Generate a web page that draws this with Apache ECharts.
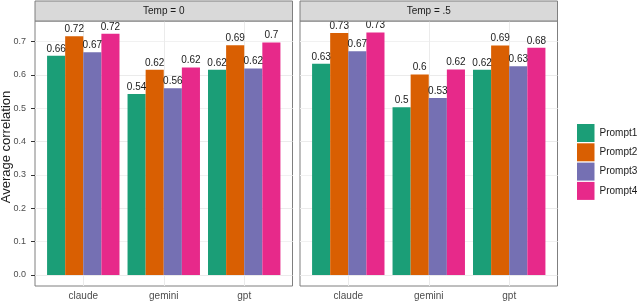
<!DOCTYPE html>
<html>
<head>
<meta charset="utf-8">
<script src="https://cdn.jsdelivr.net/npm/echarts@6/dist/echarts.min.js"></script>
<style>html,body{margin:0;padding:0;background:#fff}#c{width:640px;height:303px}</style>
</head>
<body>
<div id="c"></div>
<script>
// ---- data ----
const categories = ['claude', 'gemini', 'gpt'];
const prompts = ['Prompt1', 'Prompt2', 'Prompt3', 'Prompt4'];
const panels = ['Temp = 0', 'Temp = .5'];
const temp0_prompt1 = [0.6575, 0.5428, 0.6156];
const temp0_prompt2 = [0.7165, 0.6156, 0.6895];
const temp0_prompt3 = [0.6686, 0.5599, 0.6198];
const temp0_prompt4 = [0.7234, 0.6228, 0.6976];
const temp5_prompt1 = [0.6335, 0.5030, 0.6156];
const temp5_prompt2 = [0.7260, 0.6018, 0.6886];
const temp5_prompt3 = [0.6716, 0.5308, 0.6266];
const temp5_prompt4 = [0.7275, 0.6168, 0.6814];
const yTicks = [0, 0.1, 0.2, 0.3, 0.4, 0.5, 0.6, 0.7];

const panelValues = [
  [temp0_prompt1, temp0_prompt2, temp0_prompt3, temp0_prompt4],
  [temp5_prompt1, temp5_prompt2, temp5_prompt3, temp5_prompt4]
];
const colors = ['#1B9E77', '#D95F02', '#7570B3', '#E7298A'];
const FONT = 'Liberation Sans';

// ---- layout ----
const panelLeft = [35, 300];
const panelW = 257.5;
const panelTop = 21, panelH = 265;
const yMin = -0.033, yMax = 0.762;
const unit = panelW / 3.2;

const grids = [], xAxes = [], yAxes = [], series = [], graphics = [];
panelLeft.forEach((pl, p) => {
  grids.push({left: pl, top: panelTop, width: panelW, height: panelH, show: true,
    borderColor: '#7f7f7f', borderWidth: 1, backgroundColor: '#fff'});
  grids.push({left: pl + unit * 0.1, top: panelTop, width: unit * 3, height: panelH});
  const bg = p * 2, dg = p * 2 + 1;
  xAxes.push({gridIndex: bg, type: 'value', show: false});
  yAxes.push({gridIndex: bg, type: 'value', min: yMin, max: yMax,
    axisLine: {show: false},
    axisTick: {show: p === 0, length: 4, customValues: yTicks, lineStyle: {color: '#333'}},
    axisLabel: {show: p === 0, customValues: yTicks, fontSize: 9, color: '#4d4d4d', margin: 9,
      fontFamily: FONT, formatter: v => v.toFixed(1)},
    splitLine: {show: true, lineStyle: {color: '#ebebeb', width: 1}},
    minorTick: {show: false, splitNumber: 2},
    minorSplitLine: {show: true, lineStyle: {color: '#f3f3f3', width: 0.7}}
  });
  xAxes.push({gridIndex: dg, type: 'category', data: categories, position: 'bottom',
    axisLine: {show: false},
    axisTick: {show: true, alignWithLabel: true, length: 3, lineStyle: {color: '#333'}},
    axisLabel: {fontSize: 10, color: '#4d4d4d', margin: 5, fontFamily: FONT},
    splitLine: {show: false}
  });
  xAxes.push({gridIndex: dg, type: 'category', data: categories, position: 'top',
    axisLine: {show: false}, axisLabel: {show: false},
    axisTick: {show: true, inside: true, alignWithLabel: true, length: panelH,
      lineStyle: {color: '#ebebeb', width: 1}},
    splitLine: {show: false}
  });
  yAxes.push({gridIndex: dg, type: 'value', min: yMin, max: yMax, show: false});
  const xIdx = xAxes.length - 2, yIdx = yAxes.length - 1;
  prompts.forEach((name, i) => {
    series.push({
      name, type: 'bar', xAxisIndex: xIdx, yAxisIndex: yIdx,
      data: panelValues[p][i], barGap: '0%', barCategoryGap: '10%',
      itemStyle: {color: colors[i]},
      label: {show: true, position: 'top', distance: 2, fontSize: 10, color: '#1a1a1a',
        fontFamily: FONT, formatter: d => String(Number(d.value.toFixed(2)))},
      emphasis: {disabled: true}, animation: false
    });
  });
  graphics.push({type: 'rect', shape: {x: pl, y: 1, width: panelW, height: panelTop - 1},
    style: {fill: '#d9d9d9', stroke: '#7f7f7f', lineWidth: 1}, z: 10});
  graphics.push({type: 'text', x: pl + panelW / 2, y: 11.5, z: 11,
    style: {text: panels[p], textAlign: 'center', textVerticalAlign: 'middle',
      font: '10px "' + FONT + '"', fill: '#1a1a1a'}});
});
graphics.push({type: 'text', x: 6.5, y: 147, rotation: Math.PI / 2,
  style: {text: 'Average correlation', textAlign: 'center', textVerticalAlign: 'middle',
    font: '13px "' + FONT + '"', fill: '#1a1a1a'}});

const chart = echarts.init(document.getElementById('c'), null, {renderer: 'canvas'});
chart.setOption({
  animation: false,
  textStyle: {fontFamily: FONT},
  grid: grids, xAxis: xAxes, yAxis: yAxes, series,
  legend: {data: prompts, orient: 'vertical', left: 577, top: 124, padding: 0,
    itemWidth: 17.5, itemHeight: 18, itemGap: 1.3, icon: 'rect',
    textStyle: {fontSize: 10, color: '#1a1a1a', fontFamily: FONT}, selectedMode: false},
  graphic: graphics
});
</script>
</body>
</html>
